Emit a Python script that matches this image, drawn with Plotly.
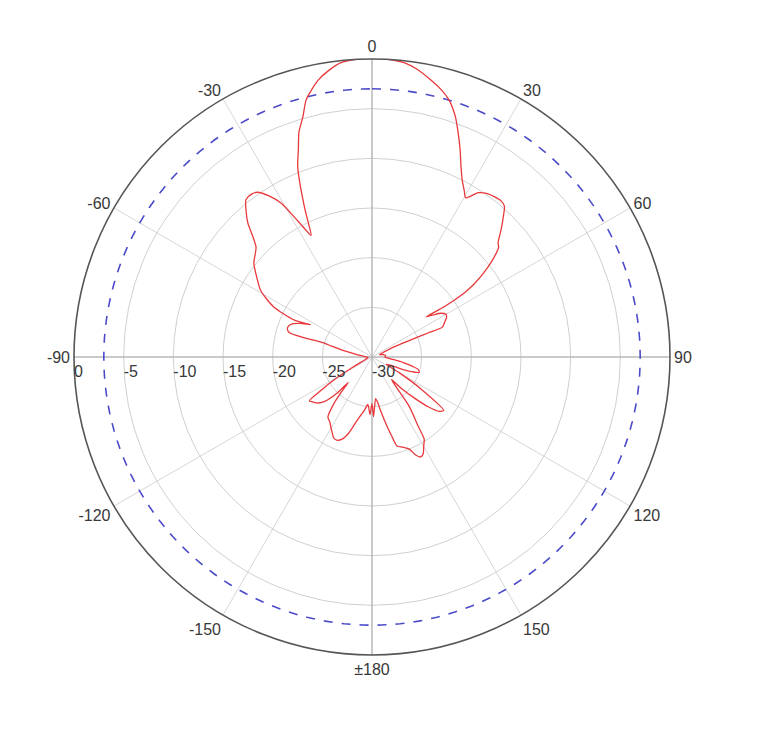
import plotly.graph_objects as go

# Radiation pattern (angle in degrees clockwise from top, gain in dB)
theta_deg = [
    -180, -178, -175, -172, -169, -166, -163, -160, -157, -154.6, -151, -147, -143.7,
    -141, -139, -137, -136, -133, -130, -127, -125, -123, -121, -118, -112, -105,
    -98, -90, -85, -80, -77, -75, -73.8, -73.5, -71, -68, -65, -62.3, -64.6, -63,
    -61, -59, -55, -51.5, -46.5, -42.8, -41, -38.7, -36.5, -34.8, -32.5, -30.6,
    -28.5, -26.6, -25.5, -24.5, -23.7, -22.5, -21.3, -19.5, -18, -16, -14.4, -12.5,
    -11, -8.5, -6, -3, 0, 3, 6.2, 9, 12, 14.5, 16.7, 19, 21, 23, 25, 27, 28.9, 30.5,
    32.9, 35, 37.3, 39.5, 41.3, 43, 45.5, 47.9, 49, 51, 53, 54.5, 55.2, 55.2, 53.5,
    55.5, 57.5, 60, 62, 64.5, 67, 66.8, 66.5, 65.5, 68, 72, 78, 84, 90, 95, 100, 103,
    105, 108, 110, 112, 114, 117, 120, 123, 126.7, 129, 131.5, 134, 136.9, 139, 141,
    143, 146.3, 147.6, 150, 152, 153.9, 156, 158, 161, 164.3, 166, 168, 171, 173,
    175, 177, 178.5, 180,
]
gain_db = [
    -25.3, -24.2, -25.2, -24.6, -24.0, -23.2, -22.0, -21.2, -20.9, -21.0, -21.6, -22.2, -22.5,
    -23.8, -25.2, -26.5, -25.0, -23.4, -22.8, -22.5, -22.3, -24.0, -25.6, -27.8, -29.2, -29.5,
    -29.6, -29.5, -29.2, -28.3, -27.0, -25.8, -25.0, -21.3, -21.0, -21.2, -22.0, -23.0, -21.3, -18.9,
    -17.8, -16.9, -15.8, -14.8, -13.9, -11.6, -10.7, -9.7, -9.6, -9.8, -10.8, -12.0,
    -14.5, -16.3, -15.2, -13.8, -12.7, -11.0, -9.4, -7.8, -6.2, -4.8, -3.3, -2.3,
    -1.6, -0.8, -0.2, 0.0, 0.1, 0.0, -0.2, -0.7, -1.5, -2.2, -3.0, -4.3, -5.8, -7.3, -8.8, -10.0, -10.8, -11.4,
    -10.3, -9.9, -9.7, -9.6, -9.8, -10.6, -11.8, -12.9, -13.1, -14.3, -15.9, -17.4, -18.7, -21.1, -23.2,
    -22.5, -21.8, -21.4, -21.5, -21.9, -22.3, -23.8, -25.0, -27.9, -28.8, -29.2, -28.8, -28.6, -28.7, -28.2, -26.8, -25.8,
    -25.2, -25.0, -25.6, -26.6, -28.0, -28.4, -26.8, -24.2, -21.0, -21.3, -22.4, -24.0, -25.7, -27.0, -26.2,
    -23.8, -21.6, -20.2, -19.6, -19.0, -18.8, -19.2, -20.0, -20.4, -20.7, -21.8, -23.0, -24.6, -25.4,
    -25.8, -25.0, -24.0, -25.3,
]

ref_theta = list(range(0, 361, 2))
ref_level = [-3.0] * len(ref_theta)

axis_theta = [0, 0, None, 90, 90, None, 180, 180, None, 270, 270]
axis_r = [-30, 0, None, -30, 0, None, -30, 0, None, -30, 0]

radial_ticks = [-30, -25, -20, -15, -10, -5, 0]
radial_labels = ["-30", "-25", "-20", "-15", "-10", "-5", "0"]
angle_ticks = [0, 30, 60, 90, 120, 150, 180, 210, 240, 270, 300, 330]
angle_labels = ["0", "30", "60", "90", "120", "150", "±180", "-150", "-120", "-90", "-60", "-30"]

fig = go.Figure()
fig.add_trace(go.Scatterpolar(
    r=axis_r, theta=axis_theta, mode="lines",
    line=dict(color="#a8a8a8", width=1),
    hoverinfo="skip", showlegend=False, connectgaps=False,
))
fig.add_trace(go.Scatterpolar(
    r=ref_level, theta=ref_theta, mode="lines",
    line=dict(color="#4b4bc8", width=1.6, dash="dash"),
    hoverinfo="skip", showlegend=False,
))
fig.add_trace(go.Scatterpolar(
    r=gain_db, theta=theta_deg, mode="lines",
    line=dict(color="#e8383c", width=1.3, shape="spline", smoothing=0.7),
    showlegend=False,
))

fig.update_layout(
    width=774, height=735,
    paper_bgcolor="white",
    margin=dict(l=66, r=112, t=51, b=88),
    font=dict(family="Liberation Sans, Arial, sans-serif", size=16, color="#383838"),
    polar=dict(
        bgcolor="white",
        angularaxis=dict(
            rotation=90, direction="clockwise",
            tickmode="array", tickvals=angle_ticks, ticktext=angle_labels,
            showline=True, linecolor="#555555", linewidth=1.6,
            showgrid=True, gridcolor="#d6d6d6", gridwidth=1,
            ticks="", tickangle=0, tickfont=dict(size=16, color="#383838"),
        ),
        radialaxis=dict(
            range=[-30, 0], angle=180, tickangle=180, side="counterclockwise",
            tickmode="array", tickvals=radial_ticks, ticktext=radial_labels,
            showline=False, ticks="",
            showgrid=True, gridcolor="#d0d0d0", gridwidth=1,
            tickfont=dict(size=16, color="#383838"),
        ),
    ),
)

fig.write_html("out.html")
